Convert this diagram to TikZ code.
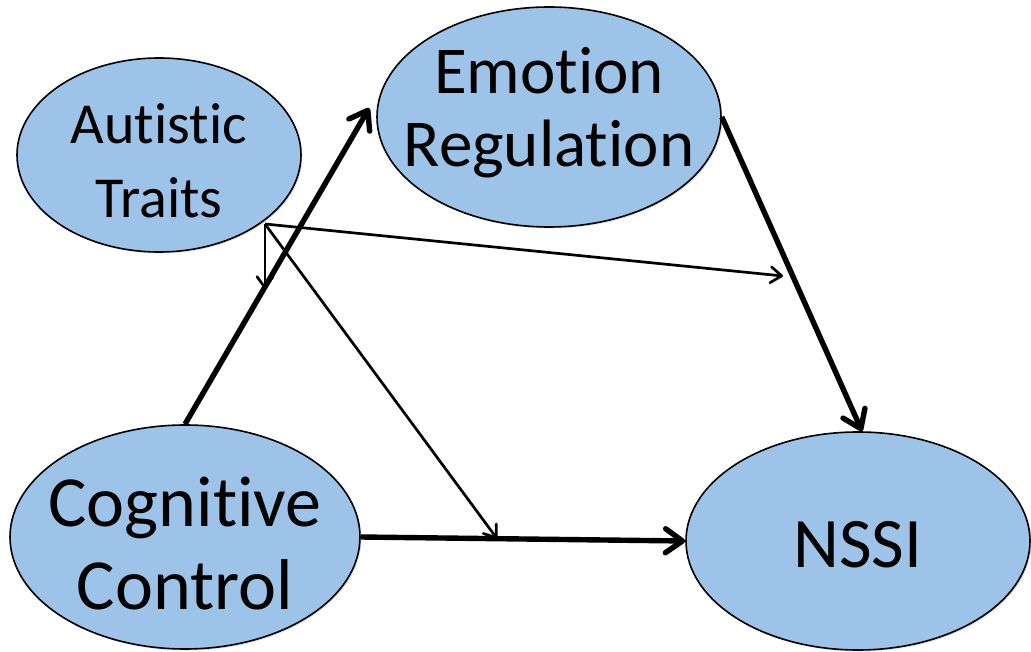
\documentclass[tikz,border=0pt]{standalone}
\usepackage{fontspec}
\setmainfont{Carlito}[Ligatures=NoCommon]
\usetikzlibrary{arrows.meta,shapes.geometric,calc,shadows}
\definecolor{nodeblue}{RGB}{158,195,232}
\begin{document}
\begin{tikzpicture}[x=1pt,y=-1pt,
  var/.style={ellipse,draw=black,line width=1.6pt,fill=nodeblue,inner sep=0pt,
    drop shadow={opacity=0.25,shadow xshift=1.5pt,shadow yshift=-1.5pt}},
  txt/.style={align=center,inner sep=0pt},
  thickarr/.style={line width=5.4pt,-{Straight Barb[round,length=17pt,width=24pt]}},
  thinarr/.style={line width=2.7pt,-{Straight Barb[round,length=11pt,width=16pt]}}]
\useasboundingbox (0,0) rectangle (1031,652);
\node[var,minimum width=284pt,minimum height=194pt,
  label={[txt,yshift=-6pt,font=\fontsize{58}{74}\selectfont]center:Autistic\\Traits}] (AT) at (159,155) {};
\node[var,minimum width=344pt,minimum height=220pt,
  label={[txt,yshift=4pt,font=\fontsize{67}{73}\selectfont]center:Emotion\\Regulation}] (ER) at (549,117) {};
\node[var,minimum width=350pt,minimum height=224pt,
  label={[txt,yshift=-6pt,font=\fontsize{72}{83}\selectfont]center:Cognitive\\Control}] (CC) at (185,537) {};
\node[var,minimum width=344pt,minimum height=218pt,
  label={[txt,yshift=-4pt,font=\fontsize{71}{84}\selectfont]center:NSSI}] (NS) at (858,541) {};
\coordinate (src) at (265,224);
\coordinate (m1) at ($(CC.east)!0.42!(NS.west)$);
\coordinate (m2) at (783,276);
\coordinate (m3) at (265,289);
\draw[thickarr] (CC.north) -- ([shift={(-7,-9)}]ER.west);
\draw[thickarr] (ER.east) -- ([xshift=4]NS.north);
\draw[thickarr] (CC.east) -- (NS.west);
\draw[thinarr] (src) -- (m1);
\draw[thinarr] (src) -- (m2);
\draw[thinarr] (src) -- (m3);
\end{tikzpicture}
\end{document}
